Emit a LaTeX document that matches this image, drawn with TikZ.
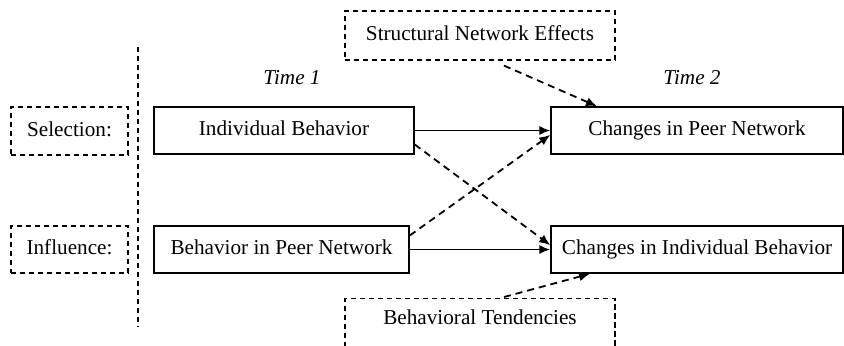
\documentclass[tikz,border=0pt]{standalone}
\usepackage{fontspec}
\setmainfont{Liberation Serif}
\newfontfamily\tmsfont{Liberation Serif}
\usetikzlibrary{arrows.meta}
\begin{document}
\begin{tikzpicture}[x=0.5pt,y=-0.5pt,
  font=\tmsfont\fontsize{10.6pt}{12.5pt}\selectfont,
  solidbox/.style={draw, line width=0.75pt, inner sep=0pt, minimum height=23.5pt, text height=7.3pt, text depth=2.3pt},
  dashbox/.style={draw, line width=0.6pt, dash pattern=on 2.6pt off 1.9pt, inner sep=0pt, text height=7.3pt, text depth=2.3pt},
  conn/.style={line width=0.9pt, -{Latex[length=5.5pt,width=4.6pt]}},
  dconn/.style={conn, dash pattern=on 3.5pt off 2.5pt},
  timelbl/.style={font=\tmsfont\fontsize{10.6pt}{12.5pt}\selectfont\itshape}]
\clip (0,0) rectangle (844,345);
% left labels
\node[dashbox, minimum width=58.5pt, minimum height=24pt] (sel) at (69.5,131) {Selection:};
\node[dashbox, minimum width=58.5pt, minimum height=23.5pt] (infl) at (69.5,249.5) {Influence:};
% separator
\coordinate (vtop) at (138,47);
\coordinate (vbot) at (138,327);
\draw[line width=0.6pt, dash pattern=on 2.6pt off 1.9pt] (vtop) -- (vbot);
% time labels
\node[timelbl] (t1) at (292,78) {Time 1};
\node[timelbl] (t2) at (692,78) {Time 2};
% main boxes
\node[solidbox, minimum width=130pt] (ib) at (284,130.5) {Individual Behavior};
\node[solidbox, minimum width=127.5pt] (bpn) at (281.5,249.5) {Behavior in Peer Network};
\node[solidbox, minimum width=146pt] (cpn) at (697,130.5) {Changes in Peer Network};
\node[solidbox, minimum width=146pt] (cib) at (697,249.5) {Changes in Individual Behavior};
% dashed context boxes
\node[dashbox, minimum width=135pt, minimum height=24.5pt] (sne) at (480,35.5) {Structural Network Effects};
\node[dashbox, minimum width=135pt, anchor=north, text height=13pt, text depth=15pt] (bt) at (480,298) {Behavioral Tendencies};
% connectors
\draw[conn] (ib.east) -- (cpn.west);
\draw[conn] (bpn.east) -- (cib.west);
\draw[dconn] ([yshift=-7pt]ib.east) -- ([yshift=2.2pt]cib.west);
\draw[dconn] ([yshift=7pt]bpn.east) -- ([yshift=-2.2pt]cpn.west);
\draw[dconn] ([xshift=12pt,yshift=-2.5pt]sne.south) -- ([xshift=-50pt]cpn.north);
\draw[dconn] ([xshift=12pt,yshift=0.5pt]bt.north) -- ([xshift=-53.5pt]cib.south);
\end{tikzpicture}
\end{document}
